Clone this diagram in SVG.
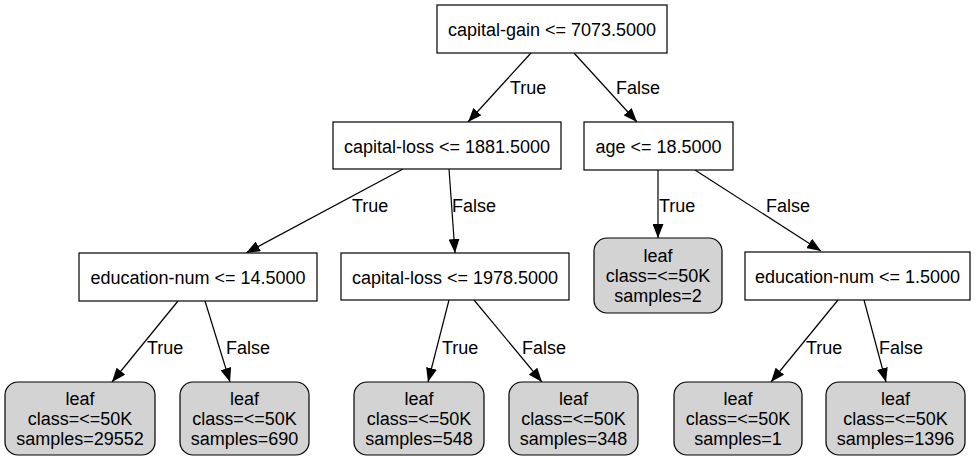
<svg xmlns="http://www.w3.org/2000/svg" width="979" height="461" viewBox="0 0 979 461">
  <defs>
    <marker id="arrow" viewBox="0 0 14 11" refX="14" refY="5.5" markerWidth="14" markerHeight="11" markerUnits="userSpaceOnUse" orient="auto">
      <path d="M0,0 L14,5.5 L0,11 Z" fill="#000"/>
    </marker>
    <style>
      text { font-family: "Liberation Sans", Arial, sans-serif; font-size: 18px; fill: #000; }
      .split rect { fill: #fff; stroke: #000; stroke-width: 1.2; }
      .leaf rect { fill: #d3d3d3; stroke: #000; stroke-width: 1.2; }
      .node text { text-anchor: middle; }
      #edges path { fill: none; stroke: #000; stroke-width: 1.2; marker-end: url(#arrow); }
    </style>
  </defs>
  <rect width="979" height="461" fill="#fff"/>

  <g id="edges">
    <path d="M531,53 L468,122"/>
    <text x="510" y="94">True</text>
    <path d="M574,53 L637,122"/>
    <text x="616" y="94">False</text>

    <path d="M403,169 L246,253"/>
    <text x="352" y="212">True</text>
    <path d="M449,169 L455,253"/>
    <text x="452" y="212">False</text>

    <path d="M658,170 L658,238"/>
    <text x="659" y="212">True</text>
    <path d="M695,170 L821,251"/>
    <text x="766" y="212">False</text>

    <path d="M178,301 L112,382"/>
    <text x="147" y="354">True</text>
    <path d="M205,301 L230,382"/>
    <text x="226" y="354">False</text>

    <path d="M449,300 L428,382"/>
    <text x="442" y="354">True</text>
    <path d="M474,300 L542,382"/>
    <text x="522" y="354">False</text>

    <path d="M838,300 L771,382"/>
    <text x="806" y="354">True</text>
    <path d="M864,300 L886,382"/>
    <text x="879" y="354">False</text>
  </g>

  <g id="n0" class="node split">
    <rect x="437" y="5" width="230" height="48"/>
    <text x="552" y="36">capital-gain &lt;= 7073.5000</text>
  </g>
  <g id="n1" class="node split">
    <rect x="333" y="122" width="228" height="47"/>
    <text x="447" y="153">capital-loss &lt;= 1881.5000</text>
  </g>
  <g id="n2" class="node split">
    <rect x="584" y="122" width="149" height="48"/>
    <text x="658.5" y="153">age &lt;= 18.5000</text>
  </g>
  <g id="n3" class="node split">
    <rect x="79" y="253" width="238" height="48"/>
    <text x="198" y="284">education-num &lt;= 14.5000</text>
  </g>
  <g id="n4" class="node split">
    <rect x="341" y="253" width="228" height="47"/>
    <text x="455" y="284">capital-loss &lt;= 1978.5000</text>
  </g>
  <g id="n5" class="node leaf">
    <rect x="594" y="238" width="128" height="75" rx="13" ry="13"/>
    <text x="658" y="262">leaf</text>
    <text x="658" y="282">class=&lt;=50K</text>
    <text x="658" y="302">samples=2</text>
  </g>
  <g id="n6" class="node split">
    <rect x="745" y="252" width="225" height="48"/>
    <text x="857.5" y="283">education-num &lt;= 1.5000</text>
  </g>
  <g id="n7" class="node leaf">
    <rect x="5" y="382" width="150" height="73" rx="13" ry="13"/>
    <text x="80" y="405">leaf</text>
    <text x="80" y="425">class=&lt;=50K</text>
    <text x="80" y="445">samples=29552</text>
  </g>
  <g id="n8" class="node leaf">
    <rect x="180" y="382" width="129" height="73" rx="13" ry="13"/>
    <text x="244.5" y="405">leaf</text>
    <text x="244.5" y="425">class=&lt;=50K</text>
    <text x="244.5" y="445">samples=690</text>
  </g>
  <g id="n9" class="node leaf">
    <rect x="354" y="382" width="130" height="73" rx="13" ry="13"/>
    <text x="419" y="405">leaf</text>
    <text x="419" y="425">class=&lt;=50K</text>
    <text x="419" y="445">samples=548</text>
  </g>
  <g id="n10" class="node leaf">
    <rect x="509" y="382" width="129" height="73" rx="13" ry="13"/>
    <text x="573.5" y="405">leaf</text>
    <text x="573.5" y="425">class=&lt;=50K</text>
    <text x="573.5" y="445">samples=348</text>
  </g>
  <g id="n11" class="node leaf">
    <rect x="674" y="382" width="128" height="73" rx="13" ry="13"/>
    <text x="738" y="405">leaf</text>
    <text x="738" y="425">class=&lt;=50K</text>
    <text x="738" y="445">samples=1</text>
  </g>
  <g id="n12" class="node leaf">
    <rect x="826" y="382" width="139" height="73" rx="13" ry="13"/>
    <text x="895.5" y="405">leaf</text>
    <text x="895.5" y="425">class=&lt;=50K</text>
    <text x="895.5" y="445">samples=1396</text>
  </g>
</svg>
